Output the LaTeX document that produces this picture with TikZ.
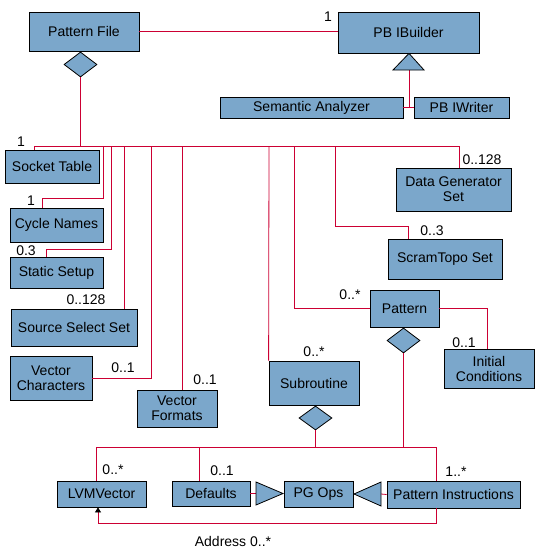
\documentclass[tikz,border=0pt]{standalone}
\usepackage{fontspec}
\setmainfont{Liberation Sans}
\usetikzlibrary{shapes.geometric,arrows.meta}
\definecolor{boxblue}{RGB}{123,167,203}
\definecolor{linered}{RGB}{204,0,51}
\newcommand{\umlbox}[6]{\node[box, minimum width={(#4)-(#2)}, minimum height={(#5)-(#3)}] (#1) at ({((#2)+(#4))/2},{((#3)+(#5))/2}) {#6};}
\begin{document}
\begin{tikzpicture}[x=1pt, y=-1pt,
  font=\fontsize{14}{15}\selectfont,
  box/.style={draw=black, fill=boxblue, line width=0.8pt, inner sep=0pt, align=center},
  conn/.style={draw=linered, line width=0.8pt},
  lbl/.style={inner sep=0pt},
  dia/.style={diamond, draw=black, fill=boxblue, line width=0.8pt, inner sep=0pt},
  tri/.style={draw=black, fill=boxblue, line width=0.8pt, line join=miter}]
\useasboundingbox (0,0) rectangle (540,552);
% boxes
\umlbox{pf}{29}{12}{139}{51}{Pattern File}
\umlbox{pbi}{338}{12}{479}{53}{PB IBuilder}
\umlbox{sem}{220}{97}{403}{118}{Semantic Analyzer}
\umlbox{pbw}{414}{97}{509}{118}{PB IWriter}
\umlbox{sock}{5}{150}{99}{183}{Socket Table}
\umlbox{cyc}{10}{208}{103}{242}{Cycle Names}
\umlbox{stat}{10}{257}{103}{288}{Static Setup}
\umlbox{src}{11}{309}{137}{346}{Source Select Set}
\umlbox{vch}{10}{356}{92}{400}{Vector\\Characters}
\umlbox{vf}{137}{390}{217}{427}{Vector\\Formats}
\umlbox{dg}{396}{168}{511}{211}{Data Generator\\Set}
\umlbox{st}{388}{239}{502}{279}{ScramTopo Set}
\umlbox{pat}{370}{290}{439}{327}{Pattern}
\umlbox{ic}{444}{349}{534}{388}{Initial\\Conditions}
\umlbox{sub}{269}{361}{359}{405}{Subroutine}
\umlbox{lvm}{57}{481}{146}{507}{LVMVector}
\umlbox{def}{172}{481}{250}{506}{Defaults}
\umlbox{pgo}{284}{481}{353}{507}{PG Ops}
\umlbox{pin}{387}{481}{520}{508}{Pattern Instructions}
% diamonds
\node[dia, minimum width=33pt, minimum height=25pt] (pfd) at (80.5,64.5) {};
\node[dia, minimum width=33pt, minimum height=25pt] (patd) at (403.5,340.5) {};
\node[dia, minimum width=33pt, minimum height=24pt] (subd) at (315.5,418) {};
% coordinates
\coordinate (tL) at (34,146);
\coordinate (tR) at (459,146);
\coordinate (inhB) at (409,70);
\coordinate (bL) at (96,447);
\coordinate (bR) at (436,447);
\coordinate (triA) at (256,493.5);
\coordinate (triB) at (381,494);
\coordinate (adrR) at (436,523);
\coordinate (adrL) at (98,523);
% connectors
\draw[conn] (pf.east) -- (pf.east -| pbi.west);
\draw[conn] (inhB) -- (409,107.5);
\draw[conn] (sem.east) -- (pbw.west);
\draw[conn] (pfd.south) -- (pfd.south |- tL);
\draw[conn] (sock.north -| tL) -- (tL) -- (tR) -- (dg.north -| tR);
\draw[conn] (103,146) |- (42,198) -- (cyc.north -| 42,0);
\draw[conn] (111,146) |- (46,249) -- (stat.north -| 46,0);
\draw[conn] (124,146) -- (src.north -| 124,0);
\draw[conn] (vch.east) -| (151,146);
\draw[conn] (182,146) -- (vf.north -| 182,0);
\draw[conn] (269,146) -- (sub.north west);
\draw[conn] (294,146) |- (pat.west);
\draw[conn] (335,146) |- (408,226) -- (st.north -| 408,0);
\draw[conn] (pat.east) -| (ic.north -| 487,0);
\draw[conn] (patd.south) -- (patd.south |- bR);
\draw[conn] (subd.south) -- (subd.south |- bR);
\draw[conn] (lvm.north -| bL) -- (bL) -- (bR) -- (pin.north -| bR);
\draw[conn] (199,447) -- (def.north -| 199,0);
\draw[conn] (def.east) -- (triA);
\draw[conn] (triB) -- (pin.west);
\draw[conn, -{Triangle[length=5pt,width=6pt,color=black,fill=black]}] (pin.south -| adrR) -- (adrR) -- (adrL) -- (lvm.south -| adrL);
% triangles
\filldraw[tri] (pbi.south -| inhB) -- (424,70) -- (393,70) -- cycle;
\filldraw[tri] (256,482) -- (283,493.5) -- (256,505) -- cycle;
\filldraw[tri] (354,494) -- (381,482) -- (381,506) -- cycle;
% labels
\node[lbl] (l1) at (328,17) {1};
\node[lbl] (l2) at (21,142) {1};
\node[lbl] (l3) at (31,201) {1};
\node[lbl] (l4) at (26,251) {0.3};
\node[lbl] (l5) at (86,300) {0..128};
\node[lbl] (l6) at (123,368) {0..1};
\node[lbl] (l7) at (205,380) {0..1};
\node[lbl] (l8) at (482,160) {0..128};
\node[lbl] (l9) at (432,231) {0..3};
\node[lbl] (l10) at (350,295) {0..*};
\node[lbl] (l11) at (464,343) {0..1};
\node[lbl] (l12) at (314,352) {0..*};
\node[lbl] (l13) at (113,470) {0..*};
\node[lbl] (l14) at (222,471) {0..1};
\node[lbl] (l15) at (456,472) {1..*};
\node[lbl] (l16) at (233,541) {Address 0..*};
\end{tikzpicture}
\end{document}
